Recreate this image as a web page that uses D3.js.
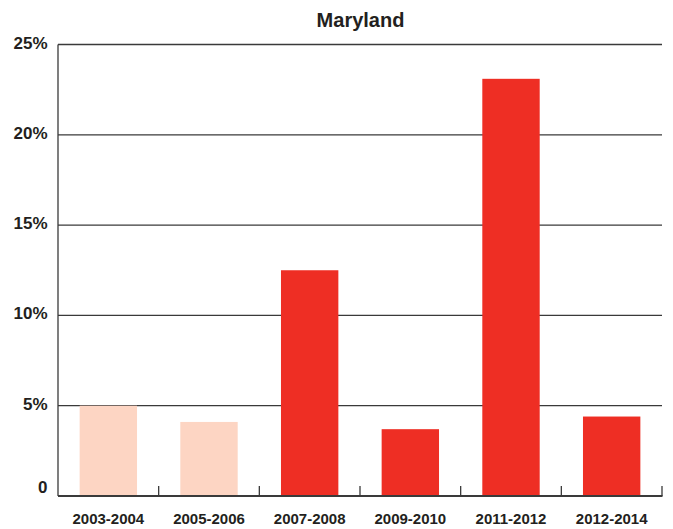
<!DOCTYPE html>
<html><head><meta charset="utf-8">
<script src="https://cdn.jsdelivr.net/npm/d3@7"></script>
<style>body{margin:0;background:#fff}</style>
</head><body>
<svg id="c" width="673" height="529"></svg>
<script>
const categories = ["2003-2004","2005-2006","2007-2008","2009-2010","2011-2012","2012-2014"];
const values = [5.0, 4.1, 12.5, 3.7, 23.1, 4.4];
const colors = ["#fdd5c3","#fdd5c3","#ee2e24","#ee2e24","#ee2e24","#ee2e24"];
const yTicks = [0,5,10,15,20,25];
const yTickLabels = ["0","5%","10%","15%","20%","25%"];
const title = "Maryland";

const font = "'Liberation Sans',Arial,Helvetica,sans-serif";
const svg = d3.select("#c");
const m = {l:58, r:662, t:44.5, b:496};
const x = d3.scaleBand().domain(categories).range([m.l, m.r]).paddingInner(0.43).paddingOuter(0.215);
const xb = d3.scaleBand().domain(categories).range([m.l, m.r]);
const y = d3.scaleLinear().domain([0,25]).range([m.b, m.t]);

// gridlines
svg.append("g").selectAll("line").data(yTicks.filter(d=>d>0)).join("line")
  .attr("x1", m.l).attr("x2", m.r).attr("y1", d=>y(d)).attr("y2", d=>y(d))
  .attr("stroke","#3a3a3a").attr("stroke-width",1.3);

// bars
svg.append("g").selectAll("rect").data(categories).join("rect")
  .attr("x", d=>x(d)).attr("width", x.bandwidth())
  .attr("y", (d,i)=>y(values[i])).attr("height", (d,i)=>y(0)-y(values[i]))
  .attr("fill", (d,i)=>colors[i]);

// y axis line
svg.append("line").attr("x1",m.l).attr("x2",m.l).attr("y1",m.t).attr("y2",m.b)
  .attr("stroke","#3a3a3a").attr("stroke-width",1.3);

// x axis
const xAxis = svg.append("g").attr("transform",`translate(0,${m.b})`);
xAxis.append("line").attr("x1",m.l).attr("x2",m.r+0.5).attr("stroke","#3a3a3a").attr("stroke-width",2);
const bounds = categories.map(c=>xb(c)+xb.bandwidth());
xAxis.selectAll("line.tk").data(bounds).join("line").attr("class","tk")
  .attr("x1",d=>d).attr("x2",d=>d).attr("y1",0).attr("y2",-10)
  .attr("stroke","#3a3a3a").attr("stroke-width",1.3);
xAxis.selectAll("text").data(categories).join("text")
  .attr("x", d=>xb(d)+xb.bandwidth()/2).attr("y", 28)
  .attr("text-anchor","middle").attr("font-family",font).attr("font-weight","bold")
  .attr("font-size",15).attr("fill","#231f20").text(d=>d);

// y labels
svg.append("g").selectAll("text").data(yTicks).join("text")
  .attr("x", 47.5).attr("y", d=> d===0 ? y(d)-3 : y(d)+4)
  .attr("text-anchor","end").attr("font-family",font).attr("font-weight","bold")
  .attr("font-size",17).attr("fill","#231f20").text((d,i)=>yTickLabels[i]);

// title
svg.append("text").attr("x",360.5).attr("y",26.7).attr("text-anchor","middle")
  .attr("font-family",font).attr("font-weight","bold").attr("font-size",20)
  .attr("fill","#231f20").text(title);
</script>
</body></html>
